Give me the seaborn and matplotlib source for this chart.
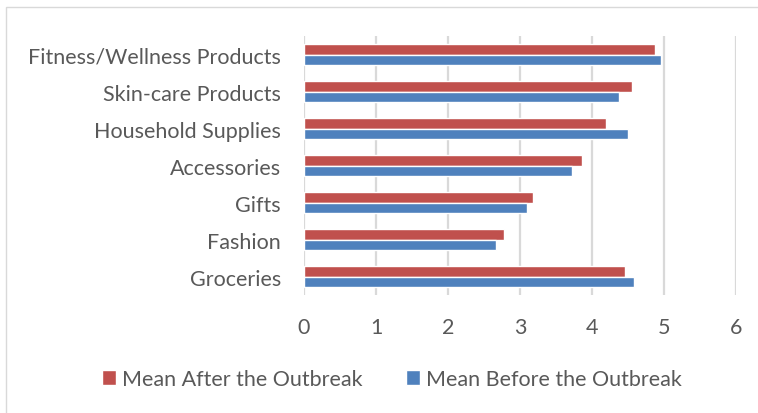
import matplotlib
matplotlib.use("Agg")
import matplotlib.pyplot as plt
import seaborn as sns
import pandas as pd
from matplotlib.patches import Rectangle

categories = ["Fitness/Wellness Products", "Skin-care Products", "Household Supplies",
              "Accessories", "Gifts", "Fashion", "Groceries"]
mean_after = [4.88, 4.55, 4.19, 3.86, 3.18, 2.78, 4.46]
mean_before = [4.96, 4.37, 4.50, 3.72, 3.10, 2.67, 4.58]
series_names = ["Mean After the Outbreak", "Mean Before the Outbreak"]
x_ticks = [0, 1, 2, 3, 4, 5, 6]

df = pd.DataFrame({
    "category": categories * 2,
    "value": mean_after + mean_before,
    "series": [series_names[0]] * len(categories) + [series_names[1]] * len(categories),
})

sns.set_theme(style="white")
plt.rcParams["font.family"] = ["Lato", "DejaVu Sans"]

fig = plt.figure(figsize=(7.58, 4.14), dpi=100)
ax = fig.add_axes([304 / 758, 1 - 296 / 414, (736 - 304) / 758, (296 - 37) / 414])

palette = {series_names[0]: "#C0504D", series_names[1]: "#4F81BD"}
sns.barplot(data=df, y="category", x="value", hue="series", order=categories,
            hue_order=series_names, palette=palette, orient="h", width=0.56,
            ax=ax, saturation=1, legend=True, zorder=3)

ax.set_xlim(0, 6)
ax.set_xticks(x_ticks)
ax.grid(axis="x", color="#D9D9D9", linewidth=1.6, zorder=0)
ax.set_axisbelow(True)
for s in ax.spines.values():
    s.set_visible(False)
ax.set_xlabel("")
ax.set_ylabel("")
ax.tick_params(axis="both", length=0, labelsize=15.5, labelcolor="#595959")
ax.tick_params(axis="x", pad=16)
ax.tick_params(axis="y", pad=16.5)

handles, labels = ax.get_legend_handles_labels()
ax.get_legend().remove()
fig.legend(handles, labels, loc="center", bbox_to_anchor=(392 / 758, 1 - 380 / 414),
           ncol=2, frameon=False, fontsize=15.5, labelcolor="#595959",
           handlelength=0.65, handleheight=0.65, handletextpad=0.3, columnspacing=2.0)

fig.patches.append(Rectangle((6 / 758, -0.1), 1.2, 1 - 8 / 414 + 0.1,
                             transform=fig.transFigure, fill=False,
                             edgecolor="#D9D9D9", linewidth=1))

fig.savefig("out.png", dpi=100)
